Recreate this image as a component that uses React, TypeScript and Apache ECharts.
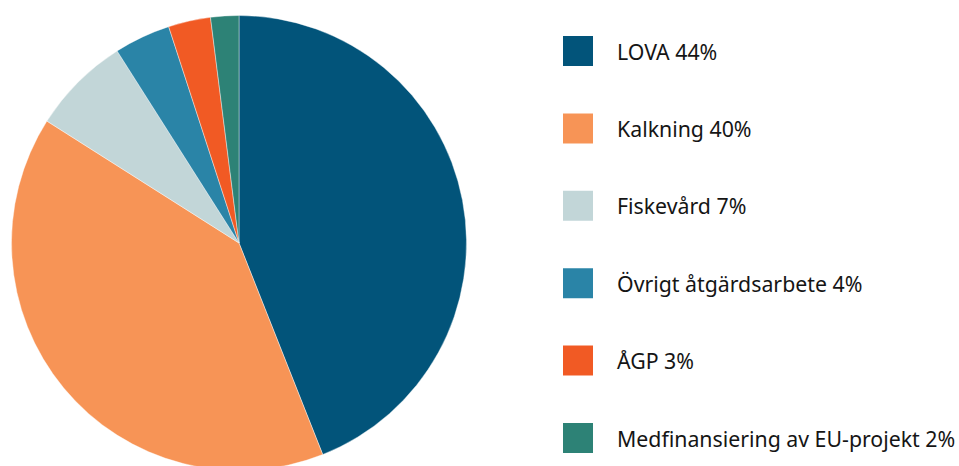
import React, { useEffect, useRef } from "react";
import * as echarts from "echarts";

const categories = ["LOVA", "Kalkning", "Fiskevård", "Övrigt åtgärdsarbete", "ÅGP", "Medfinansiering av EU-projekt"];
const values = [44, 40, 7, 4, 3, 2];
const colors = ["#02547A", "#F79456", "#C2D6D8", "#2A84A7", "#F15A24", "#2D8276"];

export default function App() {
  const ref = useRef<HTMLDivElement>(null);
  useEffect(() => {
    if (!ref.current) return;
    const chart = echarts.init(ref.current, undefined, { renderer: "svg" });
    chart.setOption({
      animation: false,
      color: colors,
      legend: {
        orient: "vertical",
        left: 561,
        top: 34,
        padding: 0,
        itemWidth: 32,
        itemHeight: 32,
        itemGap: 43.4,
        icon: "rect",
        selectedMode: false,
        formatter: (name: string) => {
          const i = categories.indexOf(name);
          return `${name} ${values[i]}%`;
        },
        textStyle: {
          fontFamily: "Noto Sans",
          fontSize: 21.3,
          color: "#151515",
          padding: [0, 0, 0, 18],
        },
      },
      series: [
        {
          type: "pie",
          center: [239, 243],
          radius: 227.5,
          startAngle: 90,
          clockwise: true,
          label: { show: false },
          labelLine: { show: false },
          itemStyle: { borderColor: "#ffffff", borderWidth: 0.4 },
          emphasis: { disabled: true },
          data: categories.map((c, i) => ({ name: c, value: values[i] })),
        },
      ],
    });
    return () => chart.dispose();
  }, []);
  return (
    <div
      ref={ref}
      style={{ position: "fixed", left: 0, top: 0, width: 959, height: 466, background: "#fff" }}
    />
  );
}
